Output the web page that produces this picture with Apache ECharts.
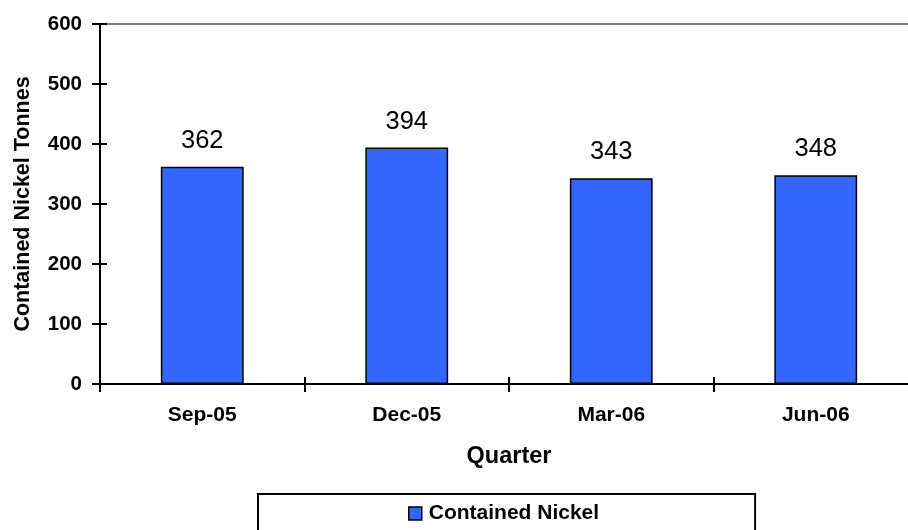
<!DOCTYPE html>
<html>
<head>
<meta charset="utf-8">
<script src="https://cdn.jsdelivr.net/npm/echarts@6/dist/echarts.min.js"></script>
<style>
  html, body { margin: 0; padding: 0; background: #fff; }
  #chart { width: 908px; height: 530px; }
</style>
</head>
<body>
<div id="chart"></div>
<script>
// Quarterly contained nickel production
const quarters = ['Sep-05', 'Dec-05', 'Mar-06', 'Jun-06'];
const containedNickel = [362, 394, 343, 348];
const yTicks = [0, 100, 200, 300, 400, 500, 600];

const FONT = 'Liberation Sans, Arial, sans-serif';
const chart = echarts.init(document.getElementById('chart'), null, { renderer: 'canvas' });

const axisLine = { show: true, lineStyle: { color: '#000', width: 2 } };

chart.setOption({
  animation: false,
  backgroundColor: '#fff',
  textStyle: { fontFamily: FONT },
  grid: {
    left: 100, top: 24, height: 360, width: 818,
    outerBoundsMode: 'none',
    containLabel: false,
    show: true, borderColor: '#808080', borderWidth: 2, backgroundColor: 'transparent'
  },
  legend: {
    data: ['Contained Nickel'],
    left: 258, top: 494,
    padding: [9, 156, 16, 150],
    borderColor: '#000', borderWidth: 2,
    itemWidth: 13, itemHeight: 13, itemGap: 6,
    icon: 'rect',
    textStyle: { fontFamily: FONT, fontWeight: 'bold', fontSize: 21, color: '#000', padding: [0, 0, 0, 2] },
    itemStyle: { borderColor: '#000', borderWidth: 1.5 }
  },
  xAxis: [{
    type: 'category',
    data: quarters,
    name: 'Quarter',
    nameLocation: 'middle',
    nameGap: 61,
    nameTextStyle: { fontFamily: FONT, fontWeight: 'bold', fontSize: 23.5, color: '#000' },
    axisLine: axisLine,
    axisTick: { show: true, length: 8, lineStyle: { color: '#000', width: 2 } },
    axisLabel: { margin: 21, fontFamily: FONT, fontWeight: 'bold', fontSize: 21, color: '#000' },
    splitLine: { show: false }
  }, {
    // inner half of the crossing category ticks
    type: 'category',
    data: quarters,
    position: 'bottom',
    axisLine: { show: false },
    axisTick: { show: true, inside: true, length: 7, lineStyle: { color: '#000', width: 2 } },
    axisLabel: { show: false },
    splitLine: { show: false }
  }],
  yAxis: [{
    type: 'value',
    min: yTicks[0], max: yTicks[yTicks.length - 1], interval: 100,
    name: 'Contained Nickel Tonnes',
    nameLocation: 'middle',
    nameGap: 66,
    nameTextStyle: { fontFamily: FONT, fontWeight: 'bold', fontSize: 21.5, color: '#000' },
    axisLine: axisLine,
    axisTick: { show: true, length: 8, lineStyle: { color: '#000', width: 2 } },
    axisLabel: { margin: 18, fontFamily: FONT, fontWeight: 'bold', fontSize: 20.5, color: '#000' },
    splitLine: { show: false }
  }, {
    // inner half of the crossing value ticks
    type: 'value',
    min: yTicks[0], max: yTicks[yTicks.length - 1], interval: 100,
    position: 'left',
    axisLine: { show: false },
    axisTick: { show: true, inside: true, length: 7, lineStyle: { color: '#000', width: 2 } },
    axisLabel: { show: false },
    splitLine: { show: false }
  }],
  series: [{
    name: 'Contained Nickel',
    type: 'bar',
    data: containedNickel,
    barWidth: '40.5%',
    itemStyle: { color: '#3366FF', borderColor: '#000', borderWidth: 1.5 },
    label: {
      show: true, position: 'top', distance: 13,
      fontFamily: FONT, fontSize: 25.5, color: '#000'
    }
  }]
});
</script>
</body>
</html>
